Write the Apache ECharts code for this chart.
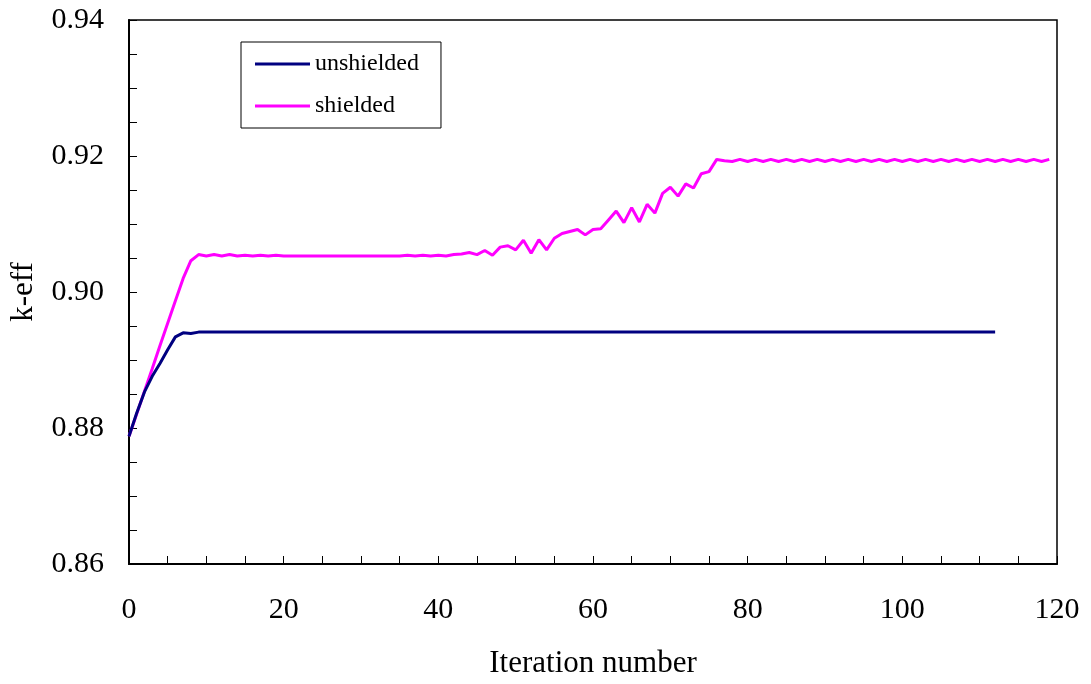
<!DOCTYPE html>
<html>
<head>
<meta charset="utf-8">
<title>k-eff vs iteration</title>
<script src="https://cdn.jsdelivr.net/npm/echarts@6/dist/echarts.min.js"></script>
<style>
  html, body { margin: 0; padding: 0; background: #fff; }
  #chart { width: 1091px; height: 684px; }
</style>
</head>
<body>
<div id="chart"></div>
<script>
// k-eff per iteration
const unshielded = [
  0.8788, 0.8822, 0.8853, 0.8876, 0.8895, 0.8915, 0.8934, 0.8940, 0.8939, 0.8941,
  0.8941, 0.8941, 0.8941, 0.8941, 0.8941, 0.8941, 0.8941, 0.8941, 0.8941, 0.8941,
  0.8941, 0.8941, 0.8941, 0.8941, 0.8941, 0.8941, 0.8941, 0.8941, 0.8941, 0.8941,
  0.8941, 0.8941, 0.8941, 0.8941, 0.8941, 0.8941, 0.8941, 0.8941, 0.8941, 0.8941,
  0.8941, 0.8941, 0.8941, 0.8941, 0.8941, 0.8941, 0.8941, 0.8941, 0.8941, 0.8941,
  0.8941, 0.8941, 0.8941, 0.8941, 0.8941, 0.8941, 0.8941, 0.8941, 0.8941, 0.8941,
  0.8941, 0.8941, 0.8941, 0.8941, 0.8941, 0.8941, 0.8941, 0.8941, 0.8941, 0.8941,
  0.8941, 0.8941, 0.8941, 0.8941, 0.8941, 0.8941, 0.8941, 0.8941, 0.8941, 0.8941,
  0.8941, 0.8941, 0.8941, 0.8941, 0.8941, 0.8941, 0.8941, 0.8941, 0.8941, 0.8941,
  0.8941, 0.8941, 0.8941, 0.8941, 0.8941, 0.8941, 0.8941, 0.8941, 0.8941, 0.8941,
  0.8941, 0.8941, 0.8941, 0.8941, 0.8941, 0.8941, 0.8941, 0.8941, 0.8941, 0.8941,
  0.8941, 0.8941, 0.8941
]

const shielded = [
  0.8788, 0.8821, 0.8854, 0.8887, 0.8921, 0.8954, 0.8987, 0.9020, 0.9046, 0.9055,
  0.9053, 0.9055, 0.9053, 0.9055, 0.9053, 0.9054, 0.9053, 0.9054, 0.9053, 0.9054,
  0.9053, 0.9053, 0.9053, 0.9053, 0.9053, 0.9053, 0.9053, 0.9053, 0.9053, 0.9053,
  0.9053, 0.9053, 0.9053, 0.9053, 0.9053, 0.9053, 0.9054, 0.9053, 0.9054, 0.9053,
  0.9054, 0.9053, 0.9055, 0.9056, 0.9058, 0.9055, 0.9061, 0.9054, 0.9066, 0.9068,
  0.9062, 0.9076, 0.9057, 0.9077, 0.9062, 0.9079, 0.9086, 0.9089, 0.9092, 0.9084,
  0.9092, 0.9093, 0.9106, 0.9119, 0.9102, 0.9124, 0.9103, 0.9129, 0.9116, 0.9145,
  0.9154, 0.9141, 0.9159, 0.9153, 0.9174, 0.9177, 0.9195, 0.9193, 0.9192, 0.9195,
  0.9192, 0.9195, 0.9192, 0.9195, 0.9192, 0.9195, 0.9192, 0.9195, 0.9192, 0.9195,
  0.9192, 0.9195, 0.9192, 0.9195, 0.9192, 0.9195, 0.9192, 0.9195, 0.9192, 0.9195,
  0.9192, 0.9195, 0.9192, 0.9195, 0.9192, 0.9195, 0.9192, 0.9195, 0.9192, 0.9195,
  0.9192, 0.9195, 0.9192, 0.9195, 0.9192, 0.9195, 0.9192, 0.9195, 0.9192, 0.9195
]

const seriesNames = ['unshielded', 'shielded']
const xTicks = [0, 20, 40, 60, 80, 100, 120]
const yTicks = [0.86, 0.88, 0.90, 0.92, 0.94]

const FONT = "'Liberation Serif', 'Times New Roman', serif"

// x is the iteration number = index in the array
const toPairs = (arr) => arr.map((v, i) => [i, v])

const myChart = echarts.init(document.getElementById('chart'))

const myOption = {
  backgroundColor: '#fff',
  animation: false,

  grid: {
    left: 129,
    right: 34,
    top: 20,
    bottom: 117,
    show: true,
    borderColor: '#000',
    borderWidth: 1.5
  },

  legend: {
    data: seriesNames,
    orient: 'vertical',
    left: 241,
    top: 42,
    padding: [10, 22, 10, 14],
    itemGap: 18,
    itemWidth: 55,
    itemHeight: 3,
    icon: 'rect',
    backgroundColor: '#fff',
    borderColor: '#000',
    borderWidth: 1,
    borderRadius: 0,
    textStyle: {
      color: '#000',
      fontFamily: FONT,
      fontSize: 24,
      lineHeight: 24
    }
  },

  xAxis: {
    type: 'value',
    min: xTicks[0],
    max: xTicks[xTicks.length - 1],
    interval: 20,
    name: 'Iteration number',
    nameLocation: 'middle',
    nameGap: 84,
    nameTextStyle: { color: '#000', fontFamily: FONT, fontSize: 31 },
    axisLine: { lineStyle: { color: '#000', width: 2 } },
    axisTick: { inside: true, length: 8, lineStyle: { color: '#000' } },
    minorTick: { show: true, splitNumber: 4, length: 8, lineStyle: { color: '#000' } },
    splitLine: { show: false },
    axisLabel: { color: '#000', fontFamily: FONT, fontSize: 30, margin: 31 }
  },

  yAxis: {
    type: 'value',
    min: yTicks[0],
    max: yTicks[yTicks.length - 1],
    interval: 0.02,
    name: 'k-eff',
    nameLocation: 'middle',
    nameGap: 90,
    nameTextStyle: { color: '#000', fontFamily: FONT, fontSize: 31 },
    axisLine: { lineStyle: { color: '#000', width: 2 } },
    axisTick: { inside: true, length: 8, lineStyle: { color: '#000' } },
    minorTick: { show: true, splitNumber: 4, length: 8, lineStyle: { color: '#000' } },
    splitLine: { show: false },
    axisLabel: {
      color: '#000',
      fontFamily: FONT,
      fontSize: 30,
      margin: 25,
      formatter: (v) => v.toFixed(2)
    }
  },

  series: [
    {
      name: seriesNames[0],
      type: 'line',
      data: toPairs(unshielded),
      showSymbol: false,
      color: '#000080',
      lineStyle: { color: '#000080', width: 3 },
      z: 3
    },
    {
      name: seriesNames[1],
      type: 'line',
      data: toPairs(shielded),
      showSymbol: false,
      color: '#ff00ff',
      lineStyle: { color: '#ff00ff', width: 3 },
      z: 2
    }
  ]
}

myChart.setOption(myOption)
</script>
</body>
</html>
